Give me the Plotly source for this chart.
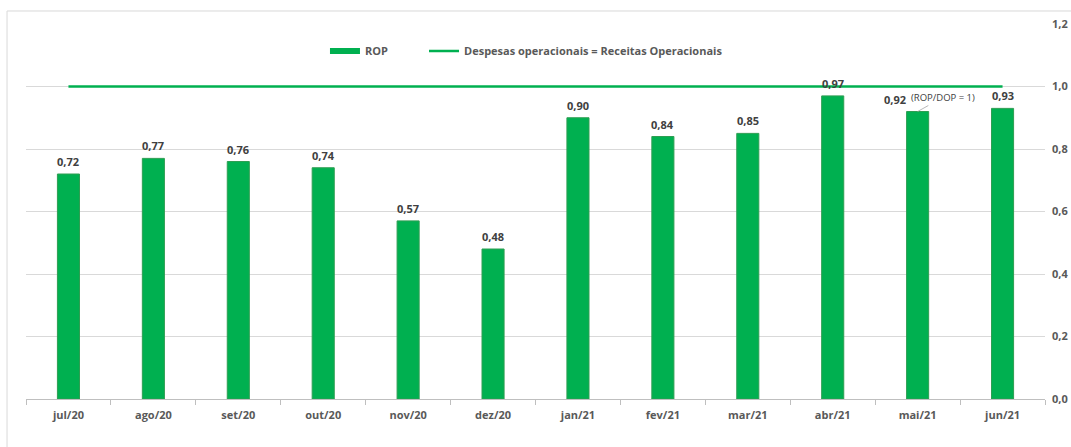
import plotly.graph_objects as go

categories = ["jul/20", "ago/20", "set/20", "out/20", "nov/20", "dez/20",
              "jan/21", "fev/21", "mar/21", "abr/21", "mai/21", "jun/21"]
rop_values = [0.72, 0.77, 0.76, 0.74, 0.57, 0.48, 0.90, 0.84, 0.85, 0.97, 0.92, 0.93]
breakeven = [1.0] * len(categories)
y_ticks = [0.0, 0.2, 0.4, 0.6, 0.8, 1.0, 1.2]
note_text = "(ROP/DOP = 1)"
note_category = "mai/21"

GREEN = "#00B050"
LABEL = "#404040"
AXIS_TXT = "#595959"
GRID = "#D9D9D9"
FONT = "Open Sans"

fig = go.Figure()
fig.add_trace(go.Bar(
    x=categories, y=rop_values, name="ROP", showlegend=False,
    marker=dict(color=GREEN, line=dict(color="#2E9E52", width=1)),
    width=0.26,
))
# legend proxy for bars (flat rectangle swatch)
fig.add_trace(go.Scatter(
    x=[None], y=[None], mode="lines", name="ROP", legend="legend",
    line=dict(color=GREEN, width=6),
))
fig.add_trace(go.Scatter(
    x=categories, y=breakeven, mode="lines", legend="legend2",
    name="Despesas operacionais = Receitas Operacionais",
    line=dict(color=GREEN, width=2.5),
))

# value labels above bars
for c, v in zip(categories, rop_values):
    fig.add_annotation(
        x=c, y=v, text=f"{v:.2f}".replace(".", ","),
        showarrow=False, yanchor="bottom", yshift=3,
        xshift=-23 if c == note_category else 0,
        font=dict(family=FONT, size=11, color=LABEL, weight="bold"),
    )

idx = categories.index(note_category)
fig.add_annotation(
    x=note_category, y=rop_values[idx], text=note_text,
    showarrow=True, arrowhead=0, arrowwidth=0.8, arrowcolor="#A6A6A6",
    ax=25, ay=-14, xanchor="center", yanchor="middle",
    font=dict(family=FONT, size=9.5, color=LABEL),
)

# outer chart border (open to right/bottom as cropped)
fig.add_shape(type="rect", xref="paper", yref="paper",
              x0=-0.0186, x1=1.2, y0=-0.3, y1=1.0347,
              line=dict(color=GRID, width=1), fillcolor="rgba(0,0,0,0)", layer="below")

legend_font = dict(family=FONT, size=11, color=AXIS_TXT, weight="bold")
fig.update_layout(
    width=1071, height=447,
    margin=dict(l=26, r=26, t=24, b=48, autoexpand=False),
    paper_bgcolor="white", plot_bgcolor="white",
    separators=",.",
    font=dict(family=FONT, size=11, color=AXIS_TXT),
    bargap=0.74,
    legend=dict(orientation="h", x=0.2934, y=0.928, xanchor="left", yanchor="middle",
                font=legend_font, bgcolor="rgba(0,0,0,0)", itemwidth=30),
    legend2=dict(orientation="h", x=0.3906, y=0.928, xanchor="left", yanchor="middle",
                 font=legend_font, bgcolor="rgba(0,0,0,0)", itemwidth=30),
    xaxis=dict(
        type="category", tickson="boundaries", ticks="outside", ticklen=5,
        tickcolor="#BFBFBF", showline=True, linecolor="#BFBFBF", linewidth=1,
        showgrid=False, automargin=False, ticklabelstandoff=6,
        tickfont=dict(family=FONT, size=11, color=AXIS_TXT, weight="bold"),
    ),
    yaxis=dict(
        side="right", range=[0, 1.2], tickvals=y_ticks, tickformat=".1f",
        showgrid=True, gridcolor=GRID, gridwidth=1, zeroline=False,
        showline=False, ticks="", automargin=False, ticklabelstandoff=6,
        tickfont=dict(family=FONT, size=11, color=AXIS_TXT, weight="bold"),
    ),
)

fig.write_html(
    "out.html",
    config={"displayModeBar": False},
    post_script="document.body.style.margin='0';"
                "document.documentElement.style.overflow='hidden';",
)
